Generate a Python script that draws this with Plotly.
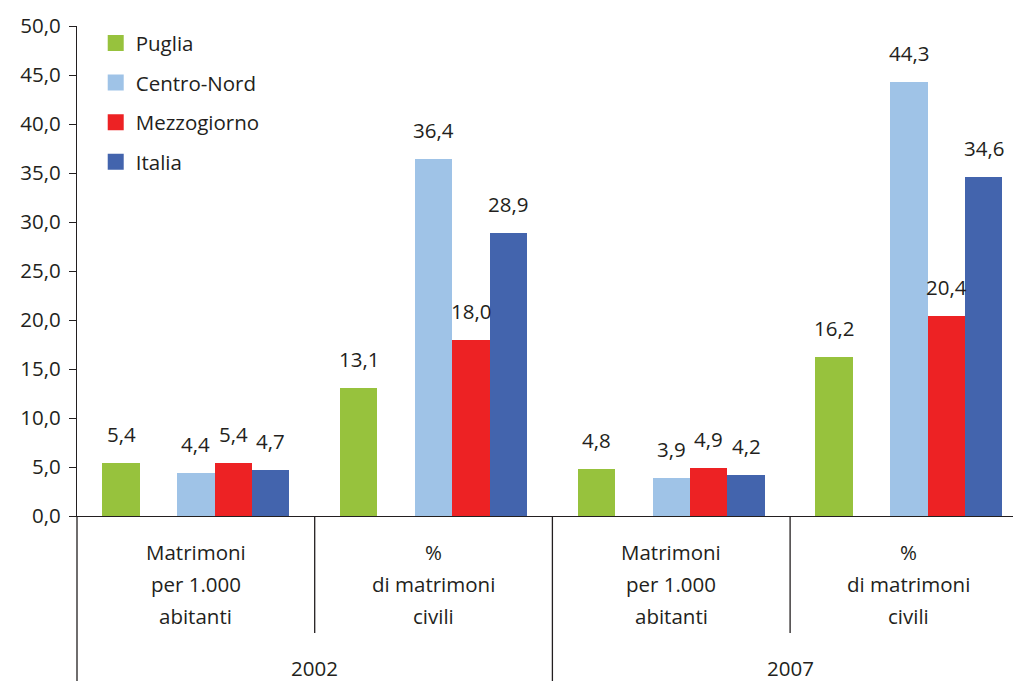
import plotly.graph_objects as go

# ---- data -------------------------------------------------------------
years = ["2002", "2007"]
indicator_lines = [["Matrimoni", "per 1.000", "abitanti"],
                   ["%", "di matrimoni", "civili"]]
series = ["Puglia", "Centro-Nord", "Mezzogiorno", "Italia"]
puglia = [5.4, 13.1, 4.8, 16.2]
centro_nord = [4.4, 36.4, 3.9, 44.3]
mezzogiorno = [5.4, 18.0, 4.9, 20.4]
italia = [4.7, 28.9, 4.2, 34.6]
y_ticks = [0, 5, 10, 15, 20, 25, 30, 35, 40, 45, 50]

# ---- styling ----------------------------------------------------------
colors = ["#97c23d", "#9fc3e7", "#ed2224", "#4364ad"]
INK = "#231f20"
FONT = "Open Sans"
FS = 20.5

W, H = 1013, 681
ML, MT, MB, MR = 77, 26, 165, 0
PLOT_W = W - ML - MR
PLOT_H = H - MT - MB
GROUP_PX = 237.7                 # width of one indicator block
BAR_W = 37.4 / GROUP_PX          # bar width in axis units
slots = [-2, 0, 1, 2]            # Puglia stands apart from the other three


def py_to_paper(py):
    """Pixel row (from top of the page) to paper y coordinate."""
    return (H - MB - py) / PLOT_H


def fmt(v):
    return f"{v:.1f}".replace(".", ",")


n_groups = len(years) * len(indicator_lines)
groups = list(range(n_groups))
values = [puglia, centro_nord, mezzogiorno, italia]

fig = go.Figure()
annotations = []
for name, vals, col, slot in zip(series, values, colors, slots):
    xs = [g + slot * BAR_W for g in groups]
    fig.add_trace(go.Bar(
        x=xs, y=vals, width=BAR_W, name=name, legendgroup=name,
        showlegend=False,
        marker=dict(color=col, line=dict(width=0)),
        hoverinfo="skip",
    ))
    # legend entry with a larger square swatch
    fig.add_trace(go.Scatter(
        x=[None], y=[None], mode="markers", name=name, legendgroup=name,
        marker=dict(symbol="square", size=16, color=col, line=dict(width=0)),
        hoverinfo="skip",
    ))
    for x, v in zip(xs, vals):
        annotations.append(dict(
            x=x, y=v, xref="x", yref="y", text=fmt(v), showarrow=False,
            yanchor="bottom", yshift=13,
            font=dict(family=FONT, size=FS, color=INK),
        ))

# indicator labels under each block
line_rows = [552, 584, 616]
for g in groups:
    for line, row in zip(indicator_lines[g % 2], line_rows):
        annotations.append(dict(
            x=g, y=py_to_paper(row), xref="x", yref="paper", text=line,
            showarrow=False, yanchor="middle", xanchor="center",
            font=dict(family=FONT, size=FS, color=INK),
        ))

# year labels
for i, yr in enumerate(years):
    annotations.append(dict(
        x=2 * i + 0.5, y=py_to_paper(668), xref="x", yref="paper", text=yr,
        showarrow=False, yanchor="middle", xanchor="center",
        font=dict(family=FONT, size=FS, color=INK),
    ))

# separators in the category area
shapes = []
for b in [0.5, 1.5, 2.5]:
    long_line = (b == 1.5)
    shapes.append(dict(
        type="line", xref="x", yref="paper", x0=b, x1=b,
        y0=0, y1=py_to_paper(H if long_line else 633),
        line=dict(color=INK, width=1.3),
    ))
# y axis line continues down through the category area
shapes.append(dict(
    type="line", xref="paper", yref="paper", x0=0, x1=0,
    y0=0, y1=py_to_paper(H), line=dict(color=INK, width=1.3),
))

x_span = PLOT_W / GROUP_PX
fig.update_layout(
    width=W, height=H,
    margin=dict(l=ML, r=MR, t=MT, b=MB, pad=0),
    paper_bgcolor="white", plot_bgcolor="white",
    separators=",.",
    font=dict(family=FONT, size=FS, color=INK),
    barmode="overlay",
    bargap=0,
    showlegend=True,
    legend=dict(
        x=0.02, y=1.006, xanchor="left", yanchor="top",
        bgcolor="rgba(0,0,0,0)", tracegroupgap=10,
        font=dict(family=FONT, size=FS, color=INK),
    ),
    xaxis=dict(
        range=[-0.5, -0.5 + x_span], showticklabels=False, ticks="",
        showgrid=False, zeroline=False, showline=True,
        linecolor=INK, linewidth=1.3, fixedrange=True,
    ),
    yaxis=dict(
        range=[0, 50], tickvals=y_ticks, tickformat=".1f",
        ticks="outside", ticklen=7, tickwidth=1.3, tickcolor=INK,
        ticklabelstandoff=4,
        showgrid=False, zeroline=False, showline=True,
        linecolor=INK, linewidth=1.3, fixedrange=True,
        tickfont=dict(family=FONT, size=FS, color=INK),
    ),
    annotations=annotations,
    shapes=shapes,
)

fig.write_html("out.html", config={"displayModeBar": False})
